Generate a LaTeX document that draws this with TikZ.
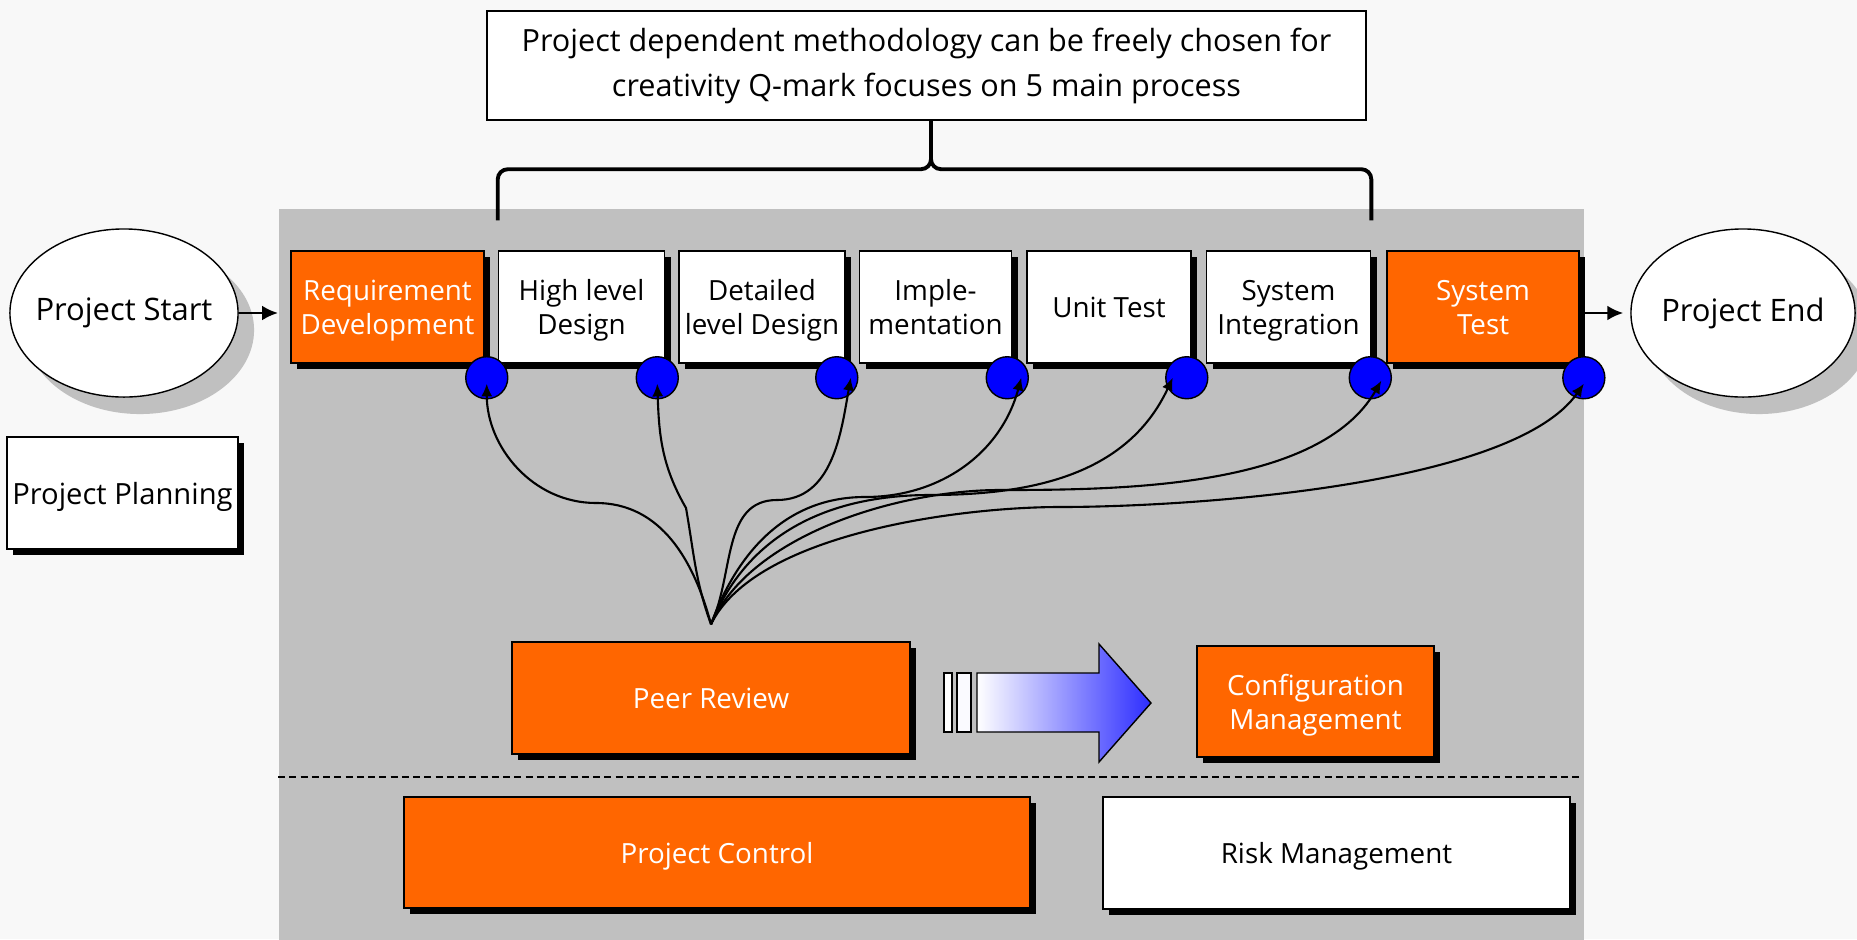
\documentclass[tikz,border=0pt]{standalone}
\usepackage{fontspec}
\setmainfont{Open Sans}
\usepackage{tikz}
\usetikzlibrary{positioning,shapes.geometric,shadows,arrows.meta}

\definecolor{qorange}{RGB}{255,102,0}
\definecolor{qblue}{RGB}{0,0,255}
\definecolor{panelgray}{RGB}{192,192,192}
\definecolor{pagegray}{RGB}{248,248,248}
\definecolor{arrowmid}{RGB}{190,190,255}
\definecolor{arrowblue}{RGB}{45,45,255}

\tikzset{
  stage/.style={draw, fill=white, inner sep=0pt, align=center, minimum height=1.12cm,
    text depth=0pt, font=\fontsize{7.9}{9.7}\selectfont,
    drop shadow={shadow xshift=0.6mm, shadow yshift=-0.6mm, fill=black, opacity=1}},
  hotstage/.style={stage, fill=qorange, text=white},
  milestone/.style={ellipse, draw, fill=white, inner ysep=0pt, inner xsep=-0.3cm, minimum height=1.68cm,
    font=\fontsize{8.8}{10}\selectfont,
    drop shadow={shadow xshift=1.6mm, shadow yshift=-1.7mm, fill=panelgray, opacity=1}},
  gate/.style={circle, draw, fill=qblue, inner sep=0pt, minimum size=0.42cm},
  review/.style={line width=0.6pt, -{Latex[length=3.6pt,width=3.2pt]}},
  flow/.style={line width=0.7pt, -{Latex[length=4.5pt,width=4.2pt]}},
  brace/.style={line width=1.1pt, rounded corners=0.1cm}
}

\begin{document}
\begin{tikzpicture}[x=0.01cm, y=0.01cm]
% page and grey process area
\fill[pagegray] (0,0) rectangle (1857,-939);
\useasboundingbox (0,0) rectangle (1857,-939);
\node[fill=panelgray, anchor=north west, inner sep=0pt, minimum width=13.05cm, minimum height=7.31cm] (panel) at (278,-208) {};

% note on top
\node[draw, fill=white, line width=0.6pt, minimum width=8.79cm, minimum height=1.09cm, align=center,
  font=\fontsize{8.7}{12.8}\selectfont] (note) at (926.5,-65.5)
  {Project dependent methodology can be freely chosen for\\creativity Q-mark focuses on 5 main process};

% milestones and planning
\node[milestone, minimum width=2.28cm] (start) at (124,-313) {Project Start};
\node[milestone, minimum width=2.24cm] (finish) at (1743,-313) {Project End};
\node[stage, minimum width=2.31cm, font=\fontsize{8.3}{10}\selectfont] (plan) at (122.5,-493) {Project Planning};

% main process
\node[hotstage, minimum width=1.93cm] (req) at (387.5,-307) {Requirement\\Development};
\node[stage, minimum width=1.66cm, right=0.13cm of req] (hld) {High level\\Design};
\node[stage, minimum width=1.66cm, right=0.13cm of hld] (dld) {Detailed\\level Design};
\node[stage, minimum width=1.52cm, right=0.13cm of dld] (impl) {Imple-\\mentation};
\node[stage, minimum width=1.64cm, right=0.14cm of impl] (unit) {Unit Test};
\node[stage, minimum width=1.64cm, right=0.14cm of unit] (sint) {System\\Integration};
\node[hotstage, minimum width=1.92cm, right=0.15cm of sint] (stest) {System\\Test};

% bracket over the 5 main processes
\draw[brace] ([xshift=0.045cm]note.south) |- ([yshift=0.81cm]hld.north west) -- ([yshift=0.3cm]hld.north west);
\draw[brace] ([xshift=0.045cm]note.south) |- ([yshift=0.81cm]sint.north east) -- ([yshift=0.3cm]sint.north east);

\draw[flow] (start) -- (start -| panel.west);
\draw[flow, shorten >=0.7mm] (finish -| panel.east) -- (finish);

% review gates
\node[gate] (g1) at ([xshift=0.02cm, yshift=-0.14cm]req.south east) {};
\node[gate] (g2) at ([xshift=-0.08cm, yshift=-0.14cm]hld.south east) {};
\node[gate] (g3) at ([xshift=-0.09cm, yshift=-0.14cm]dld.south east) {};
\node[gate] (g4) at ([xshift=-0.05cm, yshift=-0.14cm]impl.south east) {};
\node[gate] (g5) at ([xshift=-0.05cm, yshift=-0.14cm]unit.south east) {};
\node[gate] (g6) at ([xshift=-0.01cm, yshift=-0.14cm]sint.south east) {};
\node[gate] (g7) at ([xshift=0.04cm, yshift=-0.14cm]stest.south east) {};

% support processes
\node[hotstage, minimum width=3.98cm] (peer) at (711,-698) {Peer Review};
\node[hotstage, minimum width=2.37cm, minimum height=1.11cm] (config) at (1315.5,-701.5) {Configuration\\Management};
\node[hotstage, minimum width=6.26cm, minimum height=1.11cm] (control) at (717,-852.5) {Project Control};
\node[stage, minimum width=4.67cm] (risk) at (1336.5,-853) {Risk Management};
\draw[line width=0.4pt, dash pattern=on 2pt off 1.2pt] (278,-777) -- (1583,-777);

% big arrow peer review -> configuration
\draw[fill=white] (944,-673) rectangle (952,-732);
\draw[fill=blue!2] (957,-673) rectangle (971,-732);
\draw[left color=white, middle color=arrowmid, right color=arrowblue]
  (977,-673) -- (1099,-673) -- (1099,-644) -- (1151,-703) -- (1099,-762) -- (1099,-732) -- (977,-732) -- cycle;

% peer review of every stage
\coordinate (hub) at ([yshift=0.17cm]peer.north);
\draw[review] (hub) to[out=105,in=0] (596,-503) to[out=180,in=-90] ([yshift=-0.06cm]g1.center);
\draw[review] (hub) to[out=110,in=-80] (686,-508) to[out=120,in=-88] ([yshift=-0.06cm]g2.center);
\draw[review] (hub) to[out=65,in=180] (777,-500) to[out=0,in=-100] ([xshift=0.14cm]g3.center);
\draw[review] (hub) to[out=70,in=180] (865,-497) to[out=0,in=-105] ([xshift=0.14cm]g4.center);
\draw[review] (hub) to[out=68,in=180] (930,-495) to[out=0,in=-115] ([xshift=-0.14cm]g5.center);
\draw[review] (hub) to[out=66,in=180,looseness=0.8] (1000,-490) to[out=0,in=-120,looseness=0.8] ([xshift=0.11cm,yshift=-0.03cm]g6.center);
\draw[review] (hub) to[out=64,in=180,looseness=0.7] (1060,-507) to[out=0,in=-125,looseness=0.6] ([yshift=-0.06cm]g7.center);

\end{tikzpicture}
\end{document}
